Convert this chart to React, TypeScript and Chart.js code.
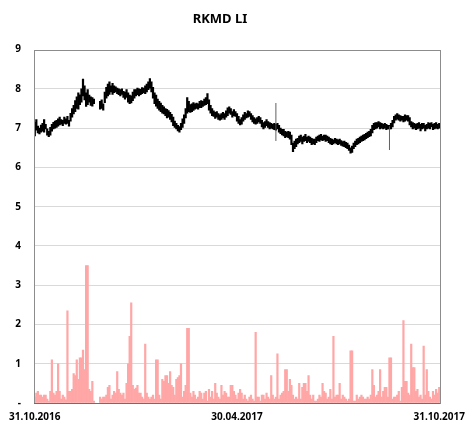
import React, { useEffect, useRef } from "react";
import { Chart, registerables } from "chart.js";

Chart.register(...registerables);

const chartTitle = "RKMD LI";
const xTickLabels = ["31.10.2016", "30.04.2017", "31.10.2017"];
const yTicks = [0, 1, 2, 3, 4, 5, 6, 7, 8, 9];

// daily [low, high] price ranges (null = no trading)
const priceRanges: ([number, number] | null)[] = [
  [6.80,7.15],[6.95,7.22],[6.88,7.05],[6.85,7.00],[6.90,7.08],[6.92,7.12],[6.90,7.22],[6.98,7.10],[6.82,6.98],[6.78,6.92],
  [6.82,7.02],[6.92,7.10],[6.98,7.15],[7.00,7.18],[7.02,7.20],[7.05,7.24],[7.08,7.28],[7.10,7.22],[7.06,7.20],[7.12,7.28],
  [7.10,7.24],[7.12,7.30],[7.05,7.20],[7.18,7.38],[7.28,7.50],[7.36,7.58],[7.42,7.70],[7.50,7.80],[7.48,7.90],[7.60,7.85],
  [7.66,8.00],[7.82,8.25],[7.72,8.08],[7.55,7.90],[7.60,7.98],[7.66,7.84],[7.58,7.80],[7.56,7.78],[7.62,7.74],null,
  null,null,[7.48,7.68],[7.50,7.72],[7.46,7.62],[7.65,7.92],[7.76,8.04],[7.82,8.12],[7.86,8.18],[7.92,8.08],
  [7.86,8.14],[7.90,8.08],[7.92,8.05],[7.88,8.02],[7.85,8.00],[7.82,7.98],[7.86,8.00],[7.78,7.94],[7.74,7.92],[7.78,7.98],
  [7.66,7.90],[7.62,7.84],[7.64,7.82],[7.70,7.92],[7.76,7.98],[7.82,7.98],[7.85,8.02],[7.82,8.00],[7.85,7.99],[7.88,8.03],
  [7.90,8.02],[7.88,8.08],[7.92,8.12],[7.98,8.18],[8.02,8.26],[7.92,8.18],[7.76,8.04],[7.62,7.90],[7.56,7.84],[7.50,7.74],
  [7.46,7.68],[7.42,7.64],[7.38,7.58],[7.36,7.54],[7.32,7.50],[7.26,7.48],[7.28,7.45],[7.22,7.40],[7.16,7.35],[7.06,7.28],
  [7.02,7.18],[6.98,7.12],[6.93,7.07],[6.90,7.04],[6.96,7.12],[7.02,7.24],[7.12,7.34],[7.26,7.50],[7.38,7.78],[7.42,7.68],
  [7.40,7.60],[7.42,7.62],[7.45,7.65],[7.48,7.62],[7.50,7.64],[7.48,7.62],[7.52,7.68],[7.52,7.70],[7.55,7.68],[7.58,7.74],
  [7.60,7.78],[7.62,7.88],[7.46,7.72],[7.38,7.58],[7.32,7.50],[7.30,7.44],[7.25,7.40],[7.28,7.42],[7.22,7.37],[7.20,7.34],
  [7.22,7.37],[7.26,7.40],[7.22,7.37],[7.28,7.44],[7.32,7.52],[7.38,7.54],[7.35,7.50],[7.28,7.42],[7.32,7.47],[7.30,7.42],
  [7.18,7.37],[7.12,7.30],[7.08,7.22],[7.10,7.27],[7.18,7.34],[7.22,7.40],[7.26,7.37],[7.28,7.44],[7.30,7.42],[7.22,7.37],
  [7.16,7.32],[7.12,7.27],[7.10,7.24],[7.12,7.27],[7.16,7.30],[7.12,7.27],[7.03,7.20],[6.98,7.14],[7.02,7.17],[7.06,7.22],
  [7.02,7.17],[6.98,7.14],[7.00,7.12],[6.98,7.10],[6.96,7.12],[6.95,7.10],[6.98,7.12],[6.90,7.07],[6.86,7.00],[6.83,6.97],
  [6.80,6.97],[6.76,6.92],[6.78,6.90],[6.76,6.92],[6.72,6.90],[6.58,6.82],[6.40,6.62],[6.48,6.67],[6.53,6.72],[6.60,6.74],
  [6.63,6.80],[6.66,6.82],[6.60,6.77],[6.66,6.80],[6.68,6.84],[6.63,6.77],[6.66,6.80],[6.63,6.77],[6.58,6.74],[6.60,6.72],
  [6.58,6.72],[6.63,6.77],[6.68,6.80],[6.66,6.82],[6.70,6.84],[6.68,6.80],[6.70,6.82],[6.66,6.82],[6.68,6.80],[6.63,6.77],
  [6.60,6.74],[6.58,6.72],[6.60,6.70],[6.63,6.74],[6.60,6.72],[6.58,6.70],[6.60,6.72],[6.56,6.68],[6.54,6.66],[6.53,6.67],
  [6.50,6.64],[6.48,6.62],[6.43,6.57],[6.36,6.50],[6.38,6.54],[6.48,6.62],[6.53,6.67],[6.58,6.72],[6.60,6.74],[6.63,6.77],
  [6.66,6.80],[6.68,6.82],[6.70,6.84],[6.73,6.87],[6.76,6.90],[6.78,6.92],[6.80,6.97],[6.88,7.07],[6.96,7.12],[6.98,7.14],
  [7.00,7.14],[7.03,7.17],[6.98,7.14],[7.00,7.12],[6.98,7.10],[7.00,7.12],[6.96,7.10],[6.98,7.07],[6.98,7.07],[6.98,7.12],
  [7.03,7.20],[7.13,7.30],[7.20,7.34],[7.23,7.37],[7.20,7.34],[7.18,7.32],[7.20,7.30],[7.16,7.30],[7.18,7.34],[7.20,7.32],
  [7.18,7.32],[7.08,7.27],[7.03,7.17],[6.98,7.14],[7.00,7.12],[6.96,7.10],[6.98,7.12],[7.00,7.14],[6.93,7.10],[6.98,7.12],
  [7.00,7.12],[6.93,7.07],[6.98,7.10],[7.00,7.14],[6.98,7.12],[7.03,7.14],[6.96,7.10],[6.98,7.12],[7.00,7.14],[6.98,7.10],[7.00,7.12],
];

// isolated intraday extremes drawn as thin wicks: [index, low, high]
const wickIndex = [155, 228];
const wickRanges: [number, number][] = [[6.67, 7.64], [6.44, 7.05]];

// daily volume (millions)
const volume: (number | null)[] = [
  0.15,0.25,0.3,0.2,0.2,0.15,0.2,0.2,0.1,0.05,
  0.3,1.1,0.25,0.2,0.3,1.0,0.3,0.1,0.2,0.15,
  0.08,2.35,0.3,0.3,0.35,0.75,0.7,1.1,0.6,1.15,
  1.15,1.35,0.85,3.5,3.5,0.35,0.3,0.55,0.05,null,
  null,null,0.15,0.1,0.15,0.15,0.2,0.4,0.45,0.1,
  0.2,0.3,0.25,0.8,0.35,0.25,0.2,0.25,0.1,0.5,
  1.0,1.7,2.55,0.45,0.35,0.38,0.45,0.25,0.25,0.15,
  0.1,1.5,0.25,0.15,0.1,0.15,0.2,0.1,1.1,1.1,
  0.2,0.1,0.6,0.55,0.7,0.7,0.5,0.8,0.45,0.4,
  0.2,0.6,0.65,0.7,1.0,0.15,0.3,0.45,1.9,1.9,
  0.25,0.15,0.3,0.2,0.1,0.15,0.3,0.25,0.1,0.25,
  0.3,0.05,0.35,0.15,0.3,0.1,0.5,0.25,0.15,0.1,
  0.45,0.2,0.3,0.25,0.15,0.15,0.45,0.45,0.3,0.2,
  0.1,0.25,0.35,0.25,0.1,0.2,0.1,0.05,0.15,0.2,
  0.1,0.05,1.8,0.15,0.15,0.05,0.2,0.2,0.1,0.25,
  0.15,0.1,0.7,0.2,0.1,0.15,1.25,0.1,0.2,0.25,
  0.3,0.85,0.85,0.3,0.6,0.45,0.2,0.1,0.15,0.1,
  0.5,0.1,0.4,0.5,0.5,0.3,0.7,0.2,0.1,0.2,
  0.05,0.05,0.1,0.2,0.15,0.5,0.3,0.25,0.1,0.15,
  0.35,0.1,1.7,0.15,0.2,0.2,0.5,0.1,0.2,0.15,
  0.1,0.05,0.1,1.33,1.33,0.05,0.05,0.2,0.1,0.15,
  0.2,0.15,0.1,0.1,0.15,0.1,0.2,0.85,0.45,0.15,
  0.2,0.3,0.85,0.15,0.3,0.4,0.4,0.15,1.15,1.15,
  0.1,0.15,0.15,0.2,0.3,0.05,0.4,2.1,0.55,0.55,
  0.25,0.2,1.5,0.9,0.9,0.3,0.35,0.15,0.2,0.1,
  1.45,0.2,0.85,0.3,0.15,0.1,0.3,0.2,0.35,0.25,0.4,
];

const dayIndex = priceRanges.map((_, i) => String(i));
const lastIdx = priceRanges.length - 1;
const midIdx = Math.round(lastIdx / 2);
const wickData = priceRanges.map((_, i) => {
  const k = wickIndex.indexOf(i);
  return k >= 0 ? wickRanges[k] : null;
});

const FONT = "'Noto Sans', 'Open Sans', sans-serif";

const frame = {
  id: "frame",
  afterDatasetsDraw(chart: any) {
    const { ctx, chartArea: a } = chart;
    ctx.save();
    ctx.strokeStyle = "#8c8c8c";
    ctx.lineWidth = 1;
    ctx.strokeRect(Math.round(a.left) + 0.5, Math.round(a.top) + 0.5, Math.round(a.right - a.left), Math.round(a.bottom - a.top));
    ctx.strokeStyle = "#6e6e6e";
    ctx.beginPath();
    ctx.moveTo(a.left, Math.round(a.bottom) + 0.5);
    ctx.lineTo(a.right, Math.round(a.bottom) + 0.5);
    ctx.stroke();
    ctx.restore();
  },
};

export default function App() {
  const ref = useRef<HTMLCanvasElement | null>(null);
  useEffect(() => {
    document.body.style.margin = "0";
    const chart = new Chart(ref.current as HTMLCanvasElement, {
      type: "bar",
      data: {
        labels: dayIndex,
        datasets: [
          {
            label: "Wick",
            data: wickData as any,
            backgroundColor: "#555555",
            barPercentage: 0.6,
            categoryPercentage: 1,
            grouped: false,
            order: 0,
          },
          {
            label: "Price",
            data: priceRanges as any,
            backgroundColor: "#000000",
            barPercentage: 1,
            categoryPercentage: 1,
            grouped: false,
            order: 1,
          },
          {
            label: "Volume",
            data: volume as any,
            backgroundColor: "rgb(255,166,166)",
            barPercentage: 1,
            categoryPercentage: 1,
            grouped: false,
            order: 2,
          },
        ],
      },
      options: {
        animation: false,
        responsive: false,
        layout: { padding: { left: 0, right: 25, top: 0, bottom: 0 } },
        plugins: {
          legend: { display: false },
          tooltip: { enabled: false },
          title: {
            display: true,
            text: chartTitle,
            color: "#000",
            font: { family: FONT, size: 13, weight: "bold" },
            padding: { top: 11, bottom: 23 },
          },
        },
        scales: {
          x: {
            type: "category",
            grid: { display: false, drawTicks: false },
            border: { display: false },
            ticks: {
              autoSkip: false,
              maxRotation: 0,
              minRotation: 0,
              padding: 8,
              color: "#000",
              font: { family: FONT, size: 10, weight: "bold" },
              callback: (_v: any, i: number) =>
                i === 0 ? xTickLabels[0] : i === midIdx ? xTickLabels[1] : i === lastIdx ? xTickLabels[2] : "",
            },
            afterFit: (s: any) => {
              s.height = 20;
              s.paddingLeft = 0;
              s.paddingRight = 0;
            },
          },
          y: {
            min: yTicks[0],
            max: yTicks[yTicks.length - 1],
            afterBuildTicks: (s: any) => {
              s.ticks = yTicks.map((v) => ({ value: v }));
            },
            grid: {
              drawTicks: false,
              color: (c: any) => (c.tick && (c.tick.value === 0 || c.tick.value === 9) ? "rgba(0,0,0,0)" : "#d9d9d9"),
            },
            border: { display: false },
            ticks: {
              padding: 13,
              color: "#000",
              font: { family: FONT, size: 10, weight: "bold" },
              callback: (v: any) => (v === 0 ? "-" : String(v)),
            },
            afterFit: (s: any) => {
              s.width = 34;
              s.paddingTop = 0;
              s.paddingBottom = 0;
            },
          },
        },
      },
      plugins: [frame],
    } as any);
    return () => chart.destroy();
  }, []);
  return (
    <div style={{ width: 465, height: 423 }}>
      <canvas ref={ref} width={465} height={423} style={{ display: "block" }} />
    </div>
  );
}
